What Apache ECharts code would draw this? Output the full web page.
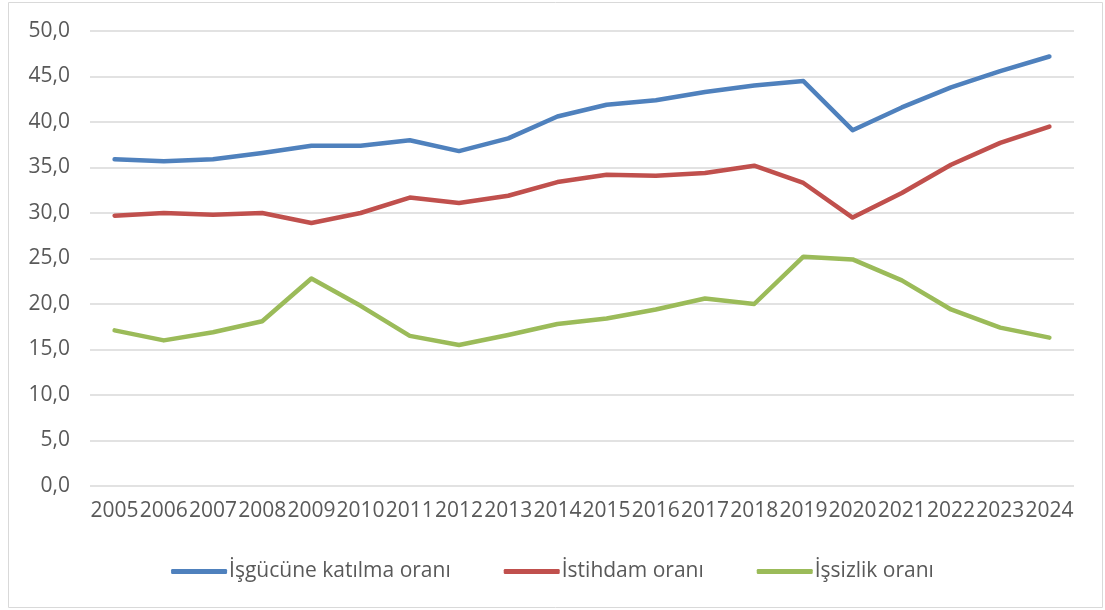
<!DOCTYPE html>
<html>
<head>
<meta charset="utf-8">
<script src="https://cdn.jsdelivr.net/npm/echarts@6/dist/echarts.min.js"></script>
<style>
  html, body { margin: 0; padding: 0; background: #fff; }
  #chart { width: 1105px; height: 610px; }
</style>
</head>
<body>
<div id="chart"></div>
<script>
var years = ['2005', '2006', '2007', '2008', '2009', '2010', '2011', '2012', '2013', '2014',
    '2015', '2016', '2017', '2018', '2019', '2020', '2021', '2022', '2023', '2024'];

var isgucu = [35.9, 35.7, 35.9, 36.6, 37.4, 37.4, 38.0, 36.8, 38.2, 40.6,
    41.9, 42.4, 43.3, 44.0, 44.5, 39.1, 41.6, 43.8, 45.6, 47.2];
var istihdam = [29.7, 30.0, 29.8, 30.0, 28.9, 30.0, 31.7, 31.1, 31.9, 33.4,
    34.2, 34.1, 34.4, 35.2, 33.3, 29.5, 32.2, 35.3, 37.7, 39.5];
var issizlik = [17.1, 16.0, 16.9, 18.1, 22.8, 19.8, 16.5, 15.5, 16.6, 17.8,
    18.4, 19.4, 20.6, 20.0, 25.2, 24.9, 22.6, 19.4, 17.4, 16.3];

var seriesNames = ['İşgücüne katılma oranı', 'İstihdam oranı', 'İşsizlik oranı'];
var colors = ['#4F81BD', '#C0504D', '#9BBB59'];

var font = '"Open Sans", "Noto Sans", sans-serif';
var textColor = '#595959';

var chart = echarts.init(document.getElementById('chart'));

function lineSeries(name, data) {
    return {
        name: name,
        type: 'line',
        data: data,
        showSymbol: false,
        symbol: 'none',
        lineStyle: { width: 4.5, cap: 'round', join: 'round' },
        emphasis: { disabled: true }
    };
}

chart.setOption({
    color: colors,
    animation: false,
    graphic: [{
        type: 'rect',
        shape: { x: 8.5, y: 2.5, width: 1094, height: 605 },
        style: { fill: 'none', stroke: '#d9d9d9', lineWidth: 1 },
        silent: true
    }],
    grid: {
        left: 90,
        right: 31,
        top: 31,
        bottom: 124
    },
    legend: {
        bottom: 23,
        left: 'center',
        icon: 'roundRect',
        itemWidth: 56,
        itemHeight: 5,
        itemGap: 53,
        textStyle: { fontFamily: font, fontSize: 21, color: textColor, padding: [0, 0, 0, -3] },
        data: seriesNames
    },
    xAxis: {
        type: 'category',
        data: years,
        boundaryGap: true,
        axisLine: { show: false },
        axisTick: { show: false },
        axisLabel: {
            interval: 0,
            margin: 15,
            fontFamily: font,
            fontSize: 21,
            color: textColor
        }
    },
    yAxis: {
        type: 'value',
        min: 0,
        max: 50,
        interval: 5,
        axisLine: { show: false },
        axisTick: { show: false },
        splitLine: { lineStyle: { color: '#d9d9d9', width: 1.5 } },
        axisLabel: {
            margin: 20,
            fontFamily: font,
            fontSize: 21,
            color: textColor,
            formatter: function (v) { return v.toFixed(1).replace('.', ','); }
        }
    },
    series: [
        lineSeries(seriesNames[0], isgucu),
        lineSeries(seriesNames[1], istihdam),
        lineSeries(seriesNames[2], issizlik)
    ]
});
</script>
</body>
</html>
